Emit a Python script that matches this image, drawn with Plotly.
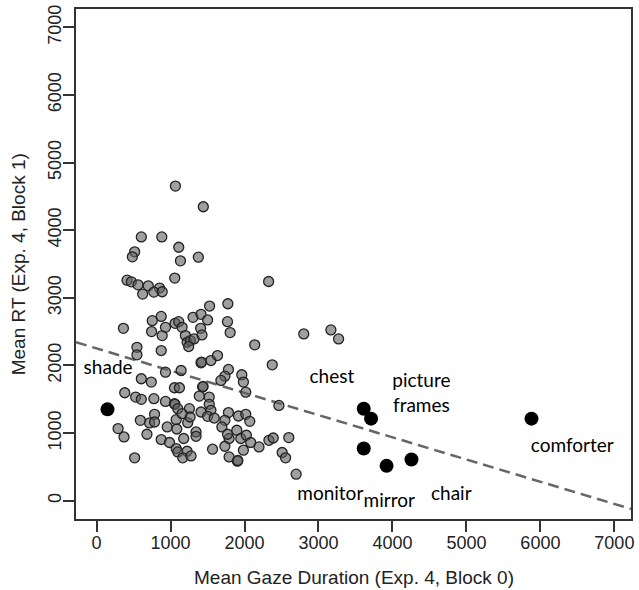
import plotly.graph_objects as go

# ---- data ----
gray_x = [1066, 1443, 605, 882, 515, 484, 1111, 1134, 1376, 1057, 412, 470, 560, 699, 851, 623, 775, 887,
          2326, 1528, 1775, 1770, 1806, 2801, 2138, 874, 753, 363, 744, 887, 932, 1062, 1111, 1156, 1201,
          1224, 1268, 1318, 1304, 1412, 1501, 1407, 1425, 546, 874, 1245, 3168, 3272,
          546, 1412, 1420, 1546, 1635, 2375, 932, 1143, 1783, 1735, 1681, 1963, 1985, 2017, 605, 740,
          1053, 1120, 1434, 1440, 1389, 1523, 381, 528, 605, 775, 932, 1053, 1060, 1098, 1255, 1523,
          1546, 1412, 1501, 1591, 1783, 1918, 2017, 2071, 1735, 1694, 784, 717, 592, 784, 1076, 1232,
          1264, 1156, 291, 371, 681, 955, 1084, 1345, 1345, 874, 986, 1178, 1076, 1098, 1224, 1165,
          1277, 515, 1568, 1735, 1792, 1770, 1896, 1950, 2025, 2084, 1985, 2196, 2330, 2388, 2599,
          1792, 1904, 1910, 2509, 2555, 2698, 2465]
gray_y = [4652, 4347, 3901, 3901, 3680, 3606, 3748, 3547, 3601, 3292, 3262, 3237, 3193, 3178, 3144, 3056, 3085, 3090,
          3242, 2879, 2913, 2648, 2486, 2466, 2305, 2726, 2663, 2549, 2501, 2442, 2564, 2623, 2648, 2564, 2442,
          2343, 2368, 2393, 2712, 2756, 2673, 2549, 2452, 2269, 2221, 2280, 2526, 2393,
          2157, 2039, 2050, 2073, 2147, 2010, 1901, 1926, 1941, 1842, 1779, 1863, 1754, 1606, 1804, 1754,
          1671, 1671, 1680, 1690, 1547, 1533, 1597, 1533, 1499, 1509, 1469, 1435, 1425, 1362, 1362, 1425,
          1337, 1312, 1248, 1223, 1303, 1253, 1278, 1174, 1189, 1091, 1278, 1150, 1189, 1164, 1199, 1155,
          1238, 1288, 1067, 943, 983, 1091, 1061, 1017, 953, 905, 861, 920, 772, 722, 732, 634,
          663, 634, 762, 806, 920, 983, 1042, 920, 968, 861, 747, 796, 894, 928, 934,
          648, 585, 595, 713, 634, 393, 1410]

black_x = [148, 3612, 3711, 3612, 3921, 4257, 5880]
black_y = [1351, 1361, 1214, 772, 516, 610, 1214]

label_text = ["shade", "chest", "picture<br>frames", "comforter", "monitor", "mirror", "chair"]
label_x = [156, 3181, 4391, 6431, 3160, 3957, 4795]
label_y = [1951, 1804, 1572, 796, 84, -15, 84]

fit_intercept = 2252
fit_slope = -0.3285

tick_vals = [0, 1000, 2000, 3000, 4000, 5000, 6000, 7000]
x_range = [-278, 7225]
y_range = [-270, 7271]

x_title = "Mean Gaze Duration (Exp. 4, Block 0)"
y_title = "Mean RT (Exp. 4, Block 1)"

fig = go.Figure()

# regression line across the full x range
fit_x = [x_range[0], x_range[1]]
fit_y = [fit_intercept + fit_slope * v for v in fit_x]
fig.add_trace(go.Scatter(
    x=fit_x, y=fit_y, mode="lines",
    line=dict(color="#666666", width=2.5, dash="11px,6px"),
    hoverinfo="skip", showlegend=False))

fig.add_trace(go.Scatter(
    x=gray_x, y=gray_y, mode="markers",
    marker=dict(size=10, color="rgba(95,95,95,0.6)",
                line=dict(color="#222222", width=1.3)),
    showlegend=False))

fig.add_trace(go.Scatter(
    x=black_x, y=black_y, mode="markers",
    marker=dict(size=14, color="black", line=dict(color="black", width=0)),
    showlegend=False))

fig.add_trace(go.Scatter(
    x=label_x, y=label_y, mode="text", text=label_text,
    textposition="middle center",
    textfont=dict(family="Lato", size=19, color="black"),
    showlegend=False))

axis_common = dict(
    tickvals=tick_vals, ticks="outside", ticklen=11, tickwidth=1.5, tickcolor="#333333",
    showline=True, linecolor="#333333", linewidth=1.5, mirror=True,
    showgrid=False, zeroline=False,
    tickfont=dict(family="Liberation Sans", size=18, color="#222222"),
)

fig.update_xaxes(range=x_range, ticklabelstandoff=-4, **axis_common)
fig.update_yaxes(range=y_range, tickangle=-90, ticklabelstandoff=-5, **axis_common)

fig.add_annotation(text=x_title, xref="paper", yref="paper", x=0.5, y=-0.115,
                   xanchor="center", yanchor="middle", showarrow=False,
                   font=dict(family="Liberation Sans", size=19, color="#222222"))
fig.add_annotation(text=y_title, xref="paper", yref="paper", x=-0.104, y=0.5,
                   xanchor="center", yanchor="middle", showarrow=False, textangle=-90,
                   font=dict(family="Liberation Sans", size=19, color="#222222"))

fig.update_layout(
    width=639, height=590,
    margin=dict(l=76, r=5, t=7, b=71),
    paper_bgcolor="white", plot_bgcolor="white",
)

fig.write_html("out.html")
